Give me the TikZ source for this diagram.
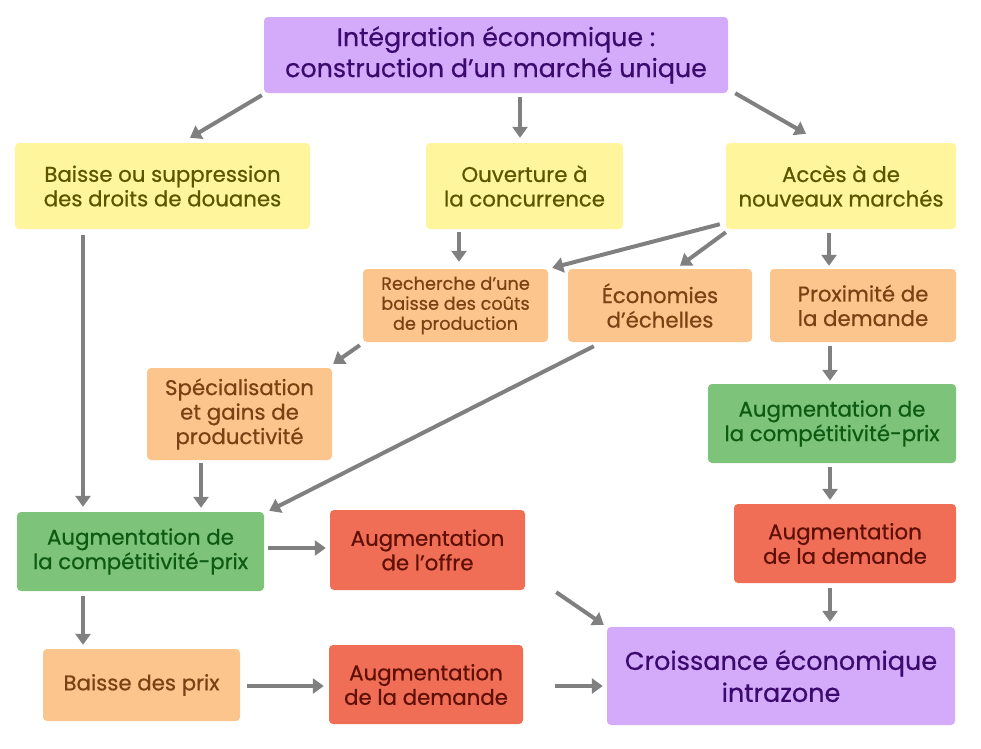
\documentclass[tikz,border=0pt]{standalone}
\usepackage{fontspec}
\setmainfont{Poppins}[FakeBold=0.6]
\usetikzlibrary{arrows.meta,calc}
\definecolor{purpfill}{HTML}{D4AAFA}
\definecolor{purptext}{HTML}{3C0A6E}
\definecolor{yelfill}{HTML}{FFF59D}
\definecolor{yeltext}{HTML}{5C5500}
\definecolor{orfill}{HTML}{FCC58E}
\definecolor{ortext}{HTML}{7A4212}
\definecolor{grfill}{HTML}{7DC47A}
\definecolor{grtext}{HTML}{0D5A13}
\definecolor{redfill}{HTML}{F06E55}
\definecolor{redtext}{HTML}{5E1006}
\definecolor{arrgray}{HTML}{808080}
\begin{document}
\begin{tikzpicture}[x=1pt,y=-1pt,
 box/.style={rounded corners=4pt, align=center, inner sep=0pt, font=\fontsize{21.3}{24.5}\selectfont},
 purp/.style={box, fill=purpfill, text=purptext},
 yel/.style={box, fill=yelfill, text=yeltext},
 ora/.style={box, fill=orfill, text=ortext},
 gre/.style={box, fill=grfill, text=grtext},
 red/.style={box, fill=redfill, text=redtext},
 arr/.style={draw=arrgray, line width=4pt, -{Triangle[width=15pt,length=11pt]}}
]
\useasboundingbox (0,0) rectangle (981,748);

\node[purp, minimum width=464pt, minimum height=76pt, font=\fontsize{25.3}{31}\selectfont] (top) at (496,55) {Intégration économique :\\construction d’un marché unique};

\node[yel, minimum width=295pt, minimum height=86pt] (b1) at (162.5,186) {Baisse ou suppression\\des droits de douanes};
\node[yel, minimum width=197pt, minimum height=86pt] (ouv) at (524.5,186) {Ouverture à\\la concurrence};
\node[yel, minimum width=230pt, minimum height=86pt] (acc) at (841,186) {Accès à de\\nouveaux marchés};

\node[ora, minimum width=185pt, minimum height=73pt, font=\fontsize{17.7}{20}\selectfont] (rech) at (455.5,305.5) {Recherche d’une\\baisse des coûts\\de production};
\node[ora, minimum width=184pt, minimum height=73pt] (eco) at (660,305.5) {Économies\\d’échelles};
\node[ora, minimum width=186pt, minimum height=73pt] (prox) at (863,305.5) {Proximité de\\la demande};

\node[ora, minimum width=185pt, minimum height=92pt] (spec) at (239.5,414) {Spécialisation\\et gains de\\productivité};
\node[gre, minimum width=248pt, minimum height=79pt] (augR) at (832,423.5) {Augmentation de\\la compétitivité-prix};

\node[gre, minimum width=247pt, minimum height=79pt] (augL) at (140.5,551.5) {Augmentation de\\la compétitivité-prix};
\node[red, minimum width=195pt, minimum height=80pt] (offre) at (427.5,550) {Augmentation\\de l’offre};
\node[red, minimum width=222pt, minimum height=79pt] (demR) at (845,543.5) {Augmentation\\de la demande};

\node[ora, minimum width=197pt, minimum height=72pt] (prix) at (141.5,685) {Baisse des prix};
\node[red, minimum width=194pt, minimum height=79pt] (demB) at (426,684.5) {Augmentation\\de la demande};
\node[purp, minimum width=348pt, minimum height=98pt, font=\fontsize{25.5}{32}\selectfont] (cro) at (781,676) {Croissance économique\\intrazone};

\draw[arr] ($(top.south west)+(-2,2)$) -- ($(b1.north)+(27.5,-5)$);
\draw[arr] ($(top.south)+(24,4)$) -- ($(ouv.north)+(-4.5,-5)$);
\draw[arr] ($(top.south east)+(7,0)$) -- ($(acc.north)+(-35,-9)$);
\draw[arr] ($(b1.south)+(-79.5,6)$) -- ($(augL.north)+(-57.5,-5)$);
\draw[arr] ($(ouv.south)+(-65.5,3)$) -- ($(rech.north)+(3.5,-7)$);
\draw[arr] ($(acc.south west)+(-6,-5)$) -- ($(rech.north east)+(4,-1)$);
\draw[arr] ($(acc.south west)+(0,3)$) -- ($(eco.north)+(20,-3)$);
\draw[arr] ($(acc.south)+(-12,4)$) -- ($(prox.north)+(-34,-3)$);
\draw[arr] ($(rech.south west)+(-3,3)$) -- ($(spec.north east)+(1,-4)$);
\draw[arr] ($(eco.south west)+(26,4)$) -- ($(augL.north east)+(5,-1)$);
\draw[arr] ($(prox.south)+(-33,4)$) -- ($(augR.north)+(-2,-3)$);
\draw[arr] ($(spec.south)+(-38.5,3)$) -- ($(augL.north)+(60.5,-4)$);
\draw[arr] ($(augR.south)+(-2,4)$) -- ($(demR.north)+(-15,-4)$);
\draw[arr] ($(augL.east)+(4,-3.5)$) -- ($(offre.west)+(-4,-2)$);
\draw[arr] ($(augL.south)+(-57.5,5)$) -- ($(prix.north)+(-58.5,-4)$);
\draw[arr] ($(demR.south)+(-15,5)$) -- ($(cro.north)+(49,-5)$);
\draw[arr] ($(offre.south east)+(31,2)$) -- ($(cro.north west)+(-3,-2)$);
\draw[arr] ($(prix.east)+(7,1)$) -- ($(demB.west)+(-5,1.5)$);
\draw[arr] ($(demB.east)+(32,1.5)$) -- ($(cro.west)+(-4,10)$);
\end{tikzpicture}
\end{document}
